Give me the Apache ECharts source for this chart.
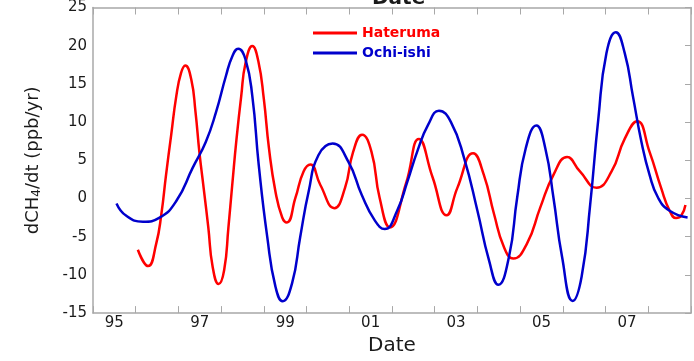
<!DOCTYPE html>
<html>
<head>
<meta charset="utf-8">
<script src="https://cdn.jsdelivr.net/npm/echarts@6/dist/echarts.min.js"></script>
<style>
  html, body { margin: 0; padding: 0; background: #fff; }
  #chart { width: 694px; height: 361px; }
</style>
</head>
<body>
<div id="chart"></div>
<script>
// values (decimal year, ppb/yr)
const hateYears = [1996.05, 1996.29, 1996.48, 1996.60, 1996.71, 1996.83, 1996.95, 1997.06, 1997.16,
  1997.30, 1997.40, 1997.49, 1997.59, 1997.70, 1997.80, 1997.94, 1998.07, 1998.17, 1998.26,
  1998.36, 1998.47, 1998.57, 1998.73, 1998.87, 1999.00, 1999.12, 1999.27, 1999.43, 1999.54,
  1999.74, 1999.93, 2000.09, 2000.32, 2000.65, 2000.90, 2001.09, 2001.30, 2001.52, 2001.71,
  2001.95, 2002.33, 2002.63, 2002.95, 2003.28, 2003.53, 2003.90, 2004.15, 2004.39, 2004.62,
  2004.84, 2005.16, 2005.47, 2005.78, 2006.10, 2006.40, 2006.79, 2007.14, 2007.45, 2007.74,
  2008.03, 2008.30, 2008.50, 2008.65, 2008.77, 2008.87];
const hateVals = [-6.7, -8.85, -5.9, -2.06, 3.1, 8.3, 13.4, 16.4, 17.4,
  15.6, 11.3, 6.1, 1.4, -3.8, -8.9, -11.2, -9.4, -3.8, 1.8,
  7.8, 13.4, 17.7, 19.95, 18.0, 13.0, 6.55, 0.96, -2.48, -3.13,
  0.1, 3.54, 4.46, 1.8, -1.26, 1.39, 6.1, 8.35, 6.1, 0.1,
  -3.78, 2.0, 7.8, 2.78, -2.18, 1.39, 5.92, 3.1, -2.06, -6.35,
  -7.86, -5.9, -1.19, 3.1, 5.43, 3.54, 1.41, 3.54, 7.84, 10.1,
  6.1, 1.39, -1.6, -2.55, -2.27, -0.85];

const ochiYears = [1995.55, 1995.78, 1996.17, 1996.56, 1996.95, 1997.33, 1997.64, 1997.88, 1998.11,
  1998.26, 1998.40, 1998.57, 1998.73, 1998.88, 1999.08, 1999.27, 1999.44, 1999.66, 1999.85,
  2000.05, 2000.28, 2000.61, 2000.98, 2001.29, 2001.60, 2001.83, 2002.12, 2002.36, 2002.60,
  2002.85, 2003.10, 2003.38, 2003.69, 2004.00, 2004.27, 2004.49, 2004.74, 2004.93, 2005.13,
  2005.38, 2005.59, 2005.78, 2005.98, 2006.23, 2006.44, 2006.64, 2006.83, 2007.02, 2007.24,
  2007.45, 2007.64, 2007.84, 2008.03, 2008.23, 2008.50, 2008.92];
const ochiVals = [-0.64, -2.27, -3.04, -2.5, -0.33, 3.97, 7.4, 11.3, 16.0,
  18.6, 19.6, 18.2, 13.4, 4.4, -5.06, -11.5, -13.45, -11.1, -5.06,
  0.96, 5.7, 7.2, 4.8, 0.5, -2.9, -3.99, -1.6, 2.2, 6.3,
  9.7, 11.5, 10.0, 5.26, -1.6, -8.07, -11.3, -7.6, 0.1, 6.55,
  9.55, 6.55, 0.1, -7.6, -13.4, -10.2, -0.77, 10.4, 19.0, 21.75,
  19.0, 13.4, 7.4, 3.1, 0.1, -1.6, -2.48];

const yearMin = 1995;
const yearMax = 2009;
const valMin = -15;
const valMax = 25;

const zip = (xs, ys) => xs.map((x, i) => [x, ys[i]]);

const chart = echarts.init(document.getElementById("chart"));
const font = "DejaVu Sans";
const axisGray = "#a8a8a8";

const option = {
  animation: false,
  backgroundColor: "#fff",
  textStyle: { fontFamily: font },
  title: {
    text: "Date",
    left: 372,
    top: -11,
    padding: 0,
    textStyle: { fontFamily: font, fontSize: 20, fontWeight: "bold", color: "#1a1a1a" },
  },
  legend: {
    orient: "vertical",
    left: 313,
    top: 26,
    padding: 0,
    icon: "rect",
    itemWidth: 44,
    itemHeight: 3,
    itemGap: 6,
    textStyle: { fontFamily: font, fontSize: 14, fontWeight: "bold" },
    data: [
      { name: "Hateruma", textStyle: { color: "#ff0000" } },
      { name: "Ochi-ishi", textStyle: { color: "#0000cc" } },
    ],
  },
  grid: { left: 93, top: 7, width: 602, height: 310 },
  xAxis: [
    {
      type: "value",
      position: "bottom",
      min: yearMin,
      max: yearMax,
      interval: 1,
      axisLine: { show: true, onZero: false, lineStyle: { color: axisGray, width: 1.5 } },
      axisTick: { show: true, inside: true, length: 7, lineStyle: { color: axisGray } },
      axisLabel: { show: false },
      splitLine: { show: false },
    },
    {
      type: "value",
      position: "bottom",
      min: yearMin,
      max: yearMax,
      interval: 0.5,
      axisLine: { show: false, onZero: false },
      axisTick: { show: false },
      splitLine: { show: false },
      axisLabel: {
        margin: 3,
        fontFamily: font,
        fontSize: 15,
        color: "#1a1a1a",
        formatter: function (v) {
          const r = v - 1995.5;
          if (Math.abs(r % 2) < 1e-6) {
            return String(Math.floor(v) % 100).padStart(2, "0");
          }
          return "";
        },
      },
      name: "Date",
      nameLocation: "middle",
      nameGap: 16,
      nameTextStyle: { fontFamily: font, fontSize: 20, color: "#1a1a1a" },
    },
    {
      type: "value",
      position: "top",
      min: yearMin,
      max: yearMax,
      interval: 1,
      axisLine: { show: true, onZero: false, lineStyle: { color: axisGray, width: 1.5 } },
      axisTick: { show: true, inside: true, length: 7, lineStyle: { color: axisGray } },
      axisLabel: { show: false },
      splitLine: { show: false },
    },
  ],
  yAxis: [
    {
      type: "value",
      position: "left",
      min: valMin,
      max: valMax,
      interval: 5,
      axisLine: { show: true, onZero: false, lineStyle: { color: axisGray, width: 1.5 } },
      axisTick: { show: false },
      splitLine: { show: false },
      axisLabel: { margin: 6, fontFamily: font, fontSize: 15, color: "#1a1a1a" },
      name: "{a|dCH}{s|4}{a|/dt (ppb/yr)}",
      nameLocation: "middle",
      nameGap: 50,
      nameTextStyle: {
        rich: {
          a: { fontFamily: font, fontSize: 18, color: "#1a1a1a" },
          s: { fontFamily: font, fontSize: 12, color: "#1a1a1a", verticalAlign: "bottom", padding: [8, 0, 0, 0] },
        },
      },
    },
    {
      type: "value",
      position: "right",
      min: valMin,
      max: valMax,
      interval: 5,
      axisLine: { show: true, onZero: false, lineStyle: { color: axisGray, width: 1.5 } },
      axisTick: { show: true, inside: true, length: 6, lineStyle: { color: axisGray } },
      axisLabel: { show: false },
      splitLine: { show: false },
    },
  ],
  series: [
    {
      name: "Hateruma",
      type: "line",
      xAxisIndex: 0,
      yAxisIndex: 0,
      smooth: 0.5,
      symbol: "none",
      color: "#ff0000",
      lineStyle: { width: 2.5, color: "#ff0000" },
      data: zip(hateYears, hateVals),
    },
    {
      name: "Ochi-ishi",
      type: "line",
      xAxisIndex: 0,
      yAxisIndex: 0,
      smooth: 0.5,
      symbol: "none",
      color: "#0000cc",
      lineStyle: { width: 2.5, color: "#0000cc" },
      data: zip(ochiYears, ochiVals),
    },
  ],
};

chart.setOption(option);
</script>
</body>
</html>
